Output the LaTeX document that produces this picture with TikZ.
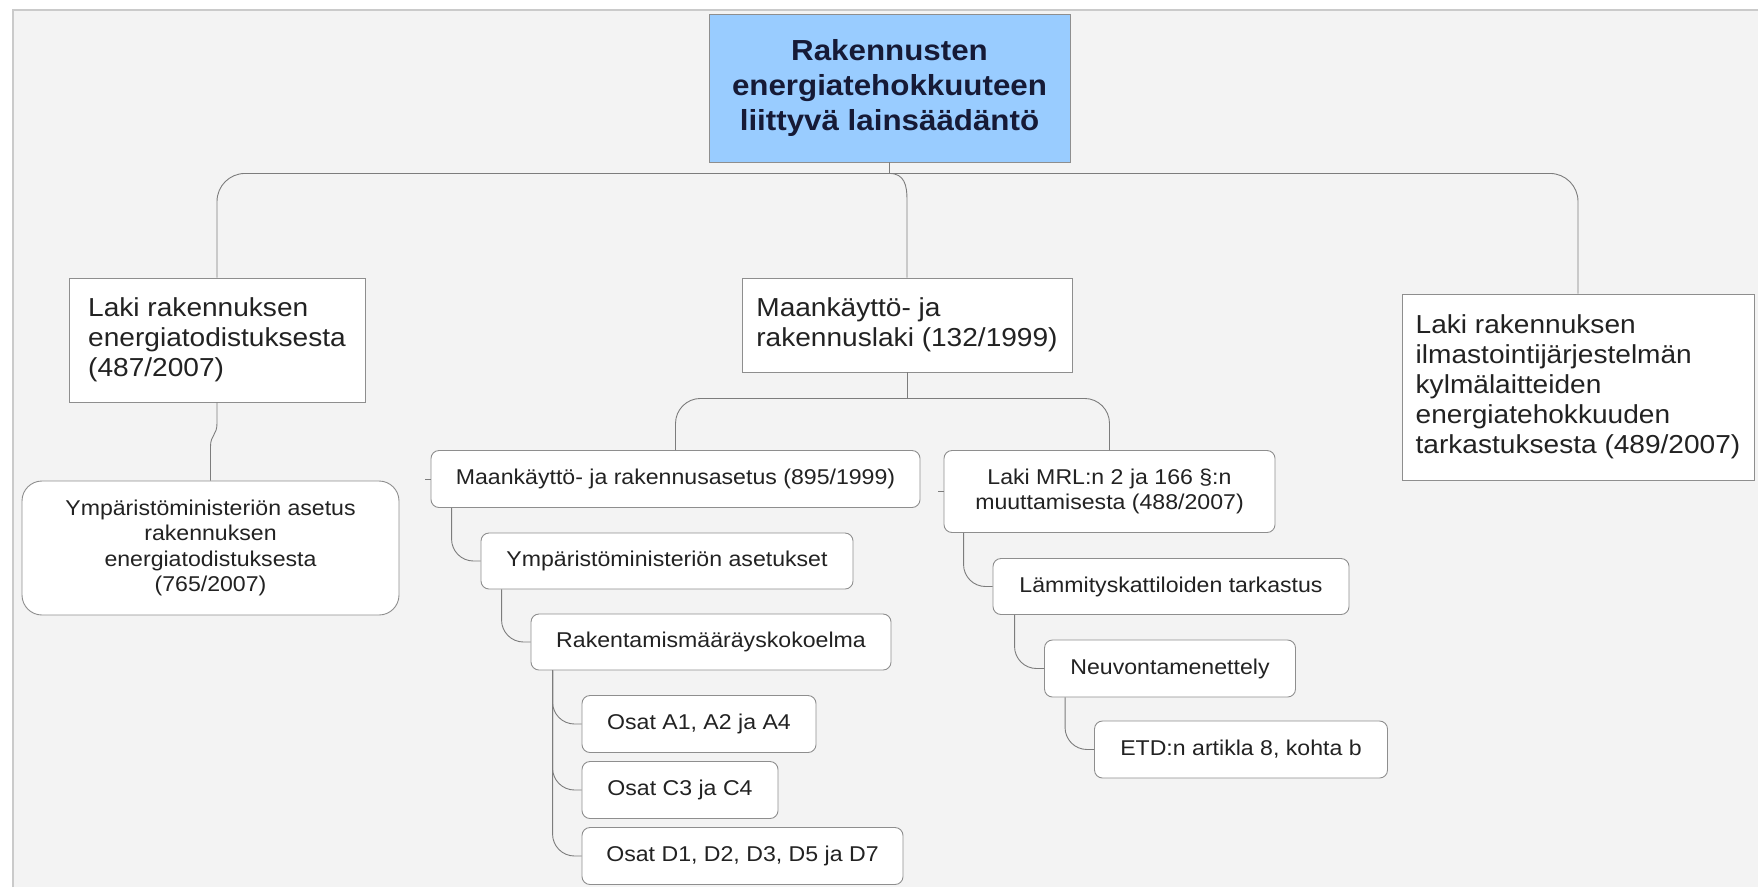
\documentclass[tikz,border=0pt]{standalone}
\usepackage{fontspec}
\setmainfont{Liberation Sans}[FakeStretch=1.08]
\usetikzlibrary{calc}

\definecolor{bgc}{HTML}{F3F3F3}
\definecolor{framec}{HTML}{CACACA}
\definecolor{titleblue}{HTML}{99CCFF}
\definecolor{titletext}{HTML}{161A36}
\definecolor{txt}{HTML}{222222}
\definecolor{edgec}{HTML}{8E8E8E}
\definecolor{connc}{HTML}{7C7C7C}

\begin{document}
\begin{tikzpicture}[
  x=1pt, y=-1pt,
  titlebox/.style={draw=edgec, fill=titleblue, line width=0.9pt,
                   align=center, inner sep=0pt, text=titletext,
                   font=\fontsize{29}{35}\selectfont\bfseries},
  lawbox/.style={draw=edgec, fill=white, line width=0.9pt,
                 align=left, inner sep=0pt, text=txt,
                 font=\fontsize{26}{30}\selectfont},
  subbox/.style={draw=edgec, fill=white, line width=0.9pt, rounded corners=8pt,
                 align=center, inner sep=0pt, text=txt,
                 font=\fontsize{21.4}{25.5}\selectfont},
  conn/.style={draw=connc, line width=0.9pt},
]
\useasboundingbox (0,0) rectangle (1758,887);

% ---------- background frame ----------
\fill[bgc] (13,10) rectangle (1758,887);
\draw[framec, line width=2pt] (13,887) -- (13,10) -- (1758,10);

% ---------- top level ----------
\node[titlebox, minimum width=361, minimum height=148] (title) at (889.5,88)
  {Rakennusten\\ energiatehokkuuteen\\ liittyvä lainsäädäntö};

\node[lawbox, minimum width=296, minimum height=124] (lawL) at (217,340)
  {Laki rakennuksen\\ energiatodistuksesta\\ (487/2007)};
\node[lawbox, minimum width=330, minimum height=94] (lawM) at (907,325)
  {Maankäyttö- ja\\ rakennuslaki (132/1999)};
\node[lawbox, minimum width=352, minimum height=186] (lawR) at (1578,387)
  {Laki rakennuksen\\ ilmastointijärjestelmän\\ kylmälaitteiden\\
   energiatehokkuuden\\ tarkastuksesta (489/2007)};

% ---------- left branch ----------
\node[subbox, rounded corners=20pt, minimum width=377, minimum height=134]
  (asetusL) at (210.5,548)
  {Ympäristöministeriön asetus\\ rakennuksen\\ energiatodistuksesta\\ (765/2007)};

% ---------- middle branch ----------
\node[subbox, minimum width=489, minimum height=57] (mra) at (675.5,479)
  {Maankäyttö- ja rakennusasetus (895/1999)};
\node[subbox, minimum width=331, minimum height=82] (mrl) at (1109.5,491.5)
  {Laki MRL:n 2 ja 166 §:n\\ muuttamisesta (488/2007)};

\node[subbox, minimum width=372, minimum height=56] (ymp) at (667,561)
  {Ympäristöministeriön asetukset};
\node[subbox, minimum width=360, minimum height=56] (rmk) at (711,642)
  {Rakentamismääräyskokoelma};
\node[subbox, minimum width=234, minimum height=57] (osA) at (699,724)
  {Osat A1, A2 ja A4};
\node[subbox, minimum width=196, minimum height=57] (osC) at (680,790)
  {Osat C3 ja C4};
\node[subbox, minimum width=321, minimum height=57] (osD) at (742.5,856)
  {Osat D1, D2, D3, D5 ja D7};

\node[subbox, minimum width=356, minimum height=56] (lamm) at (1171,586.5)
  {Lämmityskattiloiden tarkastus};
\node[subbox, minimum width=251, minimum height=57] (neuv) at (1170,668.5)
  {Neuvontamenettely};
\node[subbox, minimum width=293, minimum height=57] (etd) at (1241,749.5)
  {ETD:n artikla 8, kohta b};

% ---------- connectors : top ----------
\draw[conn] (title.south) -- ++(0,11);
\draw[conn, rounded corners=28pt] (lawL.north) |- ($(title.south)+(0,11)$) -| (lawR.north);
\draw[conn] ($(title.south)+(0,11)$) .. controls +(15,0) and +(0,-14) ..
  ($(lawM.north)+(0,-78)$) -- (lawM.north);

\draw[conn] (lawL.south) -- ++(0,21) .. controls +(0,12) and +(0,-12) ..
  ($(asetusL.north)+(0,-34)$) -- (asetusL.north);

% ---------- connectors : middle ----------
\draw[conn] (lawM.south) -- ++(0,26);
\draw[conn, rounded corners=25pt] (mra.north) |- ($(lawM.south)+(0,26)$) -| (mrl.north);
\draw[conn] (mra.west) -- ++(-6,0);
\draw[conn] (mrl.west) -- ++(-6,0);

\draw[conn, rounded corners=22pt] ($(mra.south west)+(21,0)$) |- (ymp.west);
\draw[conn, rounded corners=22pt] ($(ymp.south west)+(21,0)$) |- (rmk.west);
\foreach \os in {osA,osC,osD}
  \draw[conn, rounded corners=22pt] ($(rmk.south west)+(22,0)$) |- (\os.west);

\draw[conn, rounded corners=22pt] ($(mrl.south west)+(20,0)$) |- (lamm.west);
\draw[conn, rounded corners=22pt] ($(lamm.south west)+(22,0)$) |- (neuv.west);
\draw[conn, rounded corners=22pt] ($(neuv.south west)+(21,0)$) |- (etd.west);

\end{tikzpicture}
\end{document}
